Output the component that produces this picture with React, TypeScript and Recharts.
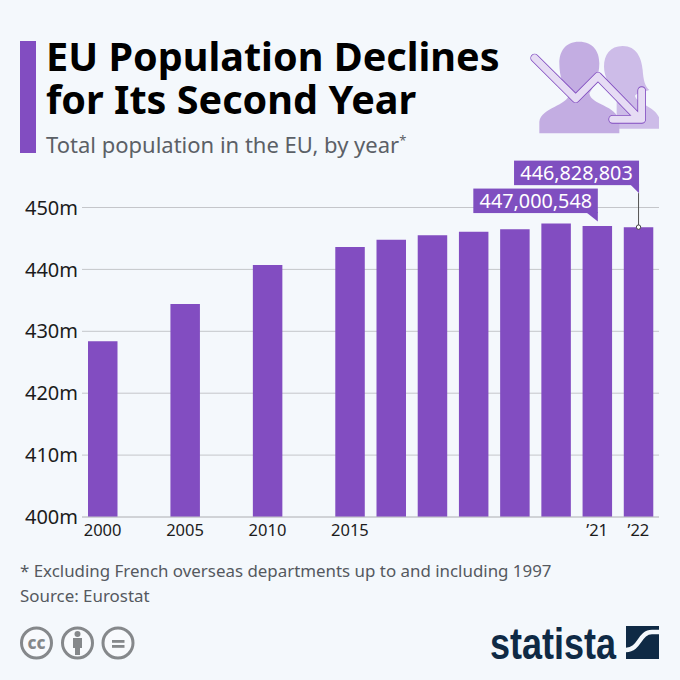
import { BarChart, Bar, XAxis, YAxis, CartesianGrid, LabelList } from "recharts";

const PURPLE = "#824dc1";
const LABEL_PURPLE = "#7f4fc0";
const GRID = "#c4c6ca";
const PAGE = "#f4f8fc";
const NAVY = "#0f2a45";
const FONT = "'Noto Sans', sans-serif";

// empty slots keep the 5 year gaps at the left of the axis
const slots = ["2000", "a", "2005", "b", "2010", "c", "2015", "2016", "2017", "2018", "2019", "2020", "2021", "2022"];
const tickLabels = ["2000", "", "2005", "", "2010", "", "2015", "", "", "", "", "", "’21", "’22"];
const population = [428.4, null, 434.4, null, 440.7, null, 443.6, 444.8, 445.5, 446.1, 446.5, 447.4, 447.000548, 446.828803];
const yTicks = [400, 410, 420, 430, 440, 450];
const label2021 = "447,000,548";
const label2022 = "446,828,803";

const chartData = slots.map((slot, i) => ({ slot, population: population[i] }));

function Callout(props: any) {
  const { value } = props;
  const box = props.viewBox ?? props;
  const { x, y, width } = box;
  const cx = x + width / 2;
  const right = cx + 0.5;
  if (value === population[12]) {
    return (
      <g>
        <rect x={right - 124.5} y={y - 37.5} width={124.5} height={24.5} fill={LABEL_PURPLE} />
        <path d={`M${right} ${y - 14}V${y - 4.5}L${right - 12} ${y - 14}Z`} fill={LABEL_PURPLE} />
        <text x={right - 62} y={y - 18.5} textAnchor="middle" fill="#fff" fontSize={19.8} fontFamily={FONT}>{label2021}</text>
      </g>
    );
  }
  if (value === population[13]) {
    return (
      <g>
        <line x1={cx} x2={cx} y1={y - 34} y2={y} stroke="#555" strokeWidth={1} />
        <rect x={right - 125} y={y - 66.5} width={125} height={24.5} fill={LABEL_PURPLE} />
        <path d={`M${right} ${y - 43}V${y - 34}L${right - 9} ${y - 43}Z`} fill={LABEL_PURPLE} />
        <text x={right - 62.5} y={y - 47.5} textAnchor="middle" fill="#fff" fontSize={19.8} fontFamily={FONT}>{label2022}</text>
        <circle cx={cx} cy={y} r={2.2} fill="#fff" stroke="#444" strokeWidth={1} />
      </g>
    );
  }
  return null;
}

function PeopleIcon() {
  return (
    <svg width={220} height={210} viewBox="0 0 660 630" style={{ position: "absolute", left: 460, top: 30 }}>
      <path d="M488 48C530 48 545 85 548 120C550 150 555 170 568 180C550 185 530 190 525 197C527 218 585 230 597 262V296H470V200C450 170 432 140 432 110C432 75 450 48 488 48Z" fill="#cdbce8" />
      <path d="M357 35C400 35 418 65 418 100C418 140 402 170 388 190C392 225 470 225 478 275V310H238V275C245 232 322 228 328 192C310 170 298 140 298 100C298 65 315 35 357 35Z" fill="#c3ade2" />
      <g fill="none" strokeLinecap="round" strokeLinejoin="round">
        <path d="M224 84L347 206L414 139L530 258M545 182V268H458" stroke={PURPLE} strokeWidth={26} />
        <path d="M224 84L347 206L414 139L530 258M545 182V268H458" stroke="#e6dcf4" strokeWidth={21} />
      </g>
    </svg>
  );
}

function LicenseIcons() {
  const stroke = "#85888b";
  return (
    <svg width={130} height={50} viewBox="0 0 130 50" style={{ position: "absolute", left: 15, top: 618 }}>
      <g fill="#f8fafd" stroke={stroke} strokeWidth={3}>
        <circle cx={21.5} cy={25} r={15} />
        <circle cx={62.5} cy={25} r={15} />
        <circle cx={103} cy={25} r={15} />
      </g>
      <text x={21.5} y={30.5} textAnchor="middle" fontSize={17} fontWeight={800} fill={stroke} fontFamily={FONT}>cc</text>
      <g fill={stroke}>
        <circle cx={62.5} cy={16} r={3} />
        <path d="M58 20H67V30H65V37H60V30H58Z" />
        <rect x={97} y={22} width={12.5} height={2.8} />
        <rect x={97} y={27} width={12.5} height={2.8} />
      </g>
    </svg>
  );
}

function StatistaLogo() {
  return (
    <svg width={175} height={50} viewBox="0 0 175 50" style={{ position: "absolute", left: 489, top: 618 }}>
      <text x={1} y={41} fontFamily="'Liberation Sans Narrow', sans-serif" fontWeight={700} fontSize={45} fill={NAVY} textLength={126} lengthAdjust="spacingAndGlyphs">statista</text>
      <rect x={137} y={8} width={33} height={33} fill={NAVY} />
      <path d="M137 32C151 32 150 14 163 14H170" fill="none" stroke={PAGE} strokeWidth={4.5} />
    </svg>
  );
}

export default function App() {
  return (
    <div style={{ position: "absolute", left: 0, top: 0, width: 680, height: 680, background: PAGE, overflow: "hidden", fontFamily: FONT }}>
      <div style={{ position: "absolute", left: 20, top: 41, width: 16, height: 112, background: PURPLE }} />
      <div style={{ position: "absolute", left: 46, top: 35, fontSize: 39.6, lineHeight: "43px", fontWeight: 700, color: "#000", whiteSpace: "nowrap" }}>
        EU Population Declines<br />for Its Second Year
      </div>
      <div style={{ position: "absolute", left: 46, top: 129, fontSize: 22, lineHeight: "30px", color: "#5b6066", whiteSpace: "nowrap" }}>
        Total population in the EU, by year<sup style={{ fontSize: 13, lineHeight: 0 }}>*</sup>
      </div>
      <PeopleIcon />
      <BarChart
        width={680}
        height={680}
        data={chartData}
        margin={{ top: 207.5, right: 21, bottom: 133, left: 0 }}
        barSize={29.5}
        style={{ position: "absolute", left: 0, top: 0 }}
      >
        <CartesianGrid vertical={false} stroke={GRID} strokeWidth={1} />
        <XAxis
          dataKey="slot"
          interval={0}
          height={30}
          tickFormatter={(_: string, i: number) => tickLabels[i]}
          tick={{ fontSize: 16.5, fill: "#1c1c1c", fontFamily: FONT }}
          axisLine={{ stroke: GRID }}
          tickLine={false}
          tickMargin={1}
        />
        <YAxis
          type="number"
          domain={[400, 450]}
          ticks={yTicks}
          width={82}
          tickFormatter={(v: number) => `${v}m`}
          tick={{ fontSize: 20, fill: "#1c1c1c", fontFamily: FONT }}
          axisLine={false}
          tickLine={false}
          tickSize={0}
          tickMargin={4}
        />
        <Bar dataKey="population" fill={PURPLE} isAnimationActive={false}>
          <LabelList dataKey="population" content={<Callout />} />
        </Bar>
      </BarChart>
      <div style={{ position: "absolute", left: 20, top: 558, fontSize: 16.9, lineHeight: "25px", color: "#55595f", whiteSpace: "nowrap" }}>
        * Excluding French overseas departments up to and including 1997<br />Source: Eurostat
      </div>
      <LicenseIcons />
      <StatistaLogo />
    </div>
  );
}
